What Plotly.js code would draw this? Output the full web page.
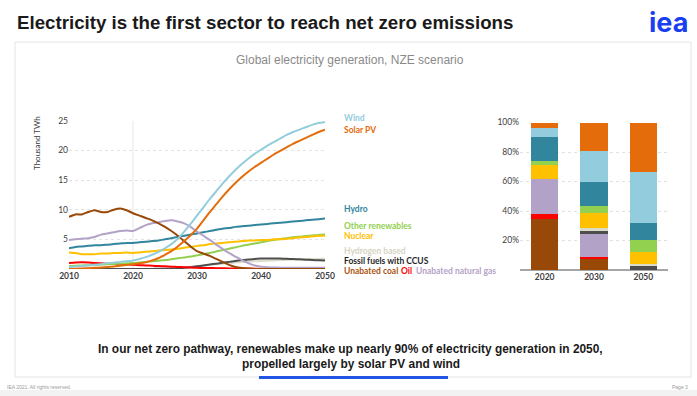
<!DOCTYPE html>
<html>
<head>
<meta charset="utf-8">
<script src="https://cdn.plot.ly/plotly-3.0.1.min.js"></script>
<style>html,body{margin:0;padding:0;background:#fff;}#chart{width:697px;height:396px;}</style>
</head>
<body>
<div id="chart"></div>
<script>
// ---------- DATA ----------
const years = [];
for (let y = 2010; y <= 2050; y++) years.push(y);

const wind = [0.35,0.42,0.5,0.6,0.7,0.8,0.95,1.05,1.2,1.3,1.45,1.7,2.0,2.4,2.9,3.5,4.2,5.1,6.3,7.6,9.0,10.4,11.8,13.1,14.4,15.6,16.7,17.7,18.6,19.4,20.1,20.8,21.4,22.0,22.6,23.1,23.5,23.9,24.3,24.6,24.8];
const solarPV = [0.03,0.06,0.1,0.14,0.19,0.25,0.33,0.44,0.56,0.68,0.8,0.95,1.15,1.45,1.85,2.4,3.0,3.8,4.7,5.7,6.8,8.2,9.6,10.9,12.2,13.4,14.5,15.5,16.4,17.2,17.9,18.6,19.3,19.9,20.5,21.1,21.6,22.1,22.6,23.1,23.5];
const hydro = [3.5,3.7,3.8,3.9,4.0,4.0,4.1,4.2,4.3,4.4,4.4,4.5,4.6,4.7,4.8,5.0,5.2,5.4,5.6,5.8,6.0,6.2,6.4,6.6,6.8,6.9,7.1,7.2,7.3,7.4,7.5,7.6,7.7,7.8,7.9,8.0,8.1,8.2,8.3,8.4,8.5];
const otherRenewables = [0.5,0.55,0.6,0.65,0.7,0.75,0.8,0.85,0.9,0.95,1.0,1.1,1.2,1.3,1.4,1.5,1.65,1.8,1.95,2.1,2.3,2.5,2.7,2.95,3.2,3.4,3.65,3.9,4.1,4.3,4.5,4.7,4.9,5.05,5.2,5.35,5.45,5.55,5.65,5.75,5.8];
const nuclear = [2.8,2.7,2.5,2.5,2.5,2.6,2.6,2.7,2.7,2.8,2.7,2.8,2.9,3.0,3.1,3.2,3.3,3.4,3.6,3.7,3.9,4.0,4.2,4.3,4.4,4.5,4.6,4.7,4.8,4.8,4.9,4.9,5.0,5.0,5.1,5.2,5.3,5.4,5.5,5.6,5.6];
const hydrogen = [0,0,0,0,0,0,0,0,0,0,0,0,0,0,0,0.05,0.1,0.2,0.3,0.4,0.5,0.6,0.7,0.8,0.9,1.0,1.1,1.2,1.25,1.3,1.35,1.4,1.45,1.5,1.55,1.6,1.62,1.65,1.68,1.7,1.72];
const ccus = [0.02,0.02,0.02,0.02,0.02,0.02,0.02,0.02,0.02,0.02,0.02,0.02,0.02,0.02,0.03,0.04,0.05,0.1,0.2,0.3,0.45,0.6,0.75,0.9,1.05,1.2,1.35,1.5,1.6,1.7,1.75,1.78,1.78,1.75,1.72,1.68,1.63,1.58,1.52,1.47,1.42];
const coal = [8.8,9.2,9.2,9.6,9.9,9.6,9.6,10.0,10.2,9.9,9.4,9.0,8.6,8.2,7.7,7.1,6.4,5.6,4.7,3.8,3.0,2.6,2.2,1.7,1.2,0.7,0.35,0.15,0.05,0.02,0.02,0.02,0.02,0.02,0.02,0.02,0.02,0.02,0.02,0.02,0.02];
const oil = [1.0,1.1,1.15,1.1,1.0,0.95,0.9,0.85,0.8,0.8,0.7,0.65,0.6,0.55,0.5,0.45,0.4,0.35,0.3,0.25,0.2,0.18,0.16,0.14,0.12,0.1,0.09,0.08,0.07,0.06,0.05,0.05,0.05,0.05,0.05,0.05,0.05,0.05,0.05,0.05,0.05];
const naturalGas = [4.9,5.0,5.1,5.2,5.4,5.8,6.0,6.2,6.4,6.5,6.4,6.9,7.4,7.7,7.9,8.1,8.2,8.0,7.7,7.1,6.3,5.6,4.9,4.1,3.4,2.7,2.1,1.5,1.0,0.6,0.4,0.3,0.25,0.22,0.2,0.2,0.2,0.2,0.2,0.2,0.2];

// Share of generation (%), by year
const barYears = ["2020","2030","2050"];
const shareCoal     = [34.8, 7.4, 0];
const shareOil      = [3.3, 1.1, 0];
const shareGas      = [23.4, 16.1, 0.2];
const shareCCUS     = [0, 1.8, 2.2];
const shareHydrogen = [0, 2.2, 1.8];
const shareNuclear  = [9.4, 10.0, 7.8];
const shareOtherRen = [3.3, 4.9, 8.3];
const shareHydro    = [16.0, 16.3, 11.8];
const shareWind     = [6.3, 21.2, 34.2];
const shareSolar    = [3.3, 19.0, 33.7];

const lineTicks = [5,10,15,20,25];
const yearTicks = [2010,2020,2030,2040,2050];
const pctTicks = [20,40,60,80,100];
const pctLabels = ["20%","40%","60%","80%","100%"];

// ---------- STYLE ----------
const C = {
  wind:'#93cddd', solar:'#e46c0a', hydro:'#31859c', other:'#92d050', nuclear:'#ffc000',
  hydrogen:'#dcdac8', ccus:'#4d4d4d', coal:'#984807', oil:'#ff0000', gas:'#b3a2c7'
};
const W = 697, H = 396;
const px = x => x / W;
const py = y => 1 - y / H;
const FONT = 'Lato, "DejaVu Sans", sans-serif';
const ARIAL = '"Liberation Sans", Arial, sans-serif';

function line(y, color, name) {
  return {type:'scatter', mode:'lines', x:years, y:y, name:name,
          line:{color:color, width:2, shape:'spline', smoothing:0.6},
          xaxis:'x', yaxis:'y', hoverinfo:'skip'};
}
const traces = [
  line(hydrogen, C.hydrogen, 'Hydrogen based'),
  line(ccus, C.ccus, 'Fossil fuels with CCUS'),
  line(oil, C.oil, 'Oil'),
  line(otherRenewables, C.other, 'Other renewables'),
  line(nuclear, C.nuclear, 'Nuclear'),
  line(hydro, C.hydro, 'Hydro'),
  line(naturalGas, C.gas, 'Unabated natural gas'),
  line(coal, C.coal, 'Unabated coal'),
  line(solarPV, C.solar, 'Solar PV'),
  line(wind, C.wind, 'Wind')
];
function bar(v, color, name) {
  return {type:'bar', x:barYears, y:v, name:name, marker:{color:color, line:{width:0}},
          xaxis:'x2', yaxis:'y2', hoverinfo:'skip'};
}
traces.push(
  bar(shareCoal, C.coal, 'Unabated coal'),
  bar(shareOil, C.oil, 'Oil'),
  bar(shareGas, C.gas, 'Unabated natural gas'),
  bar(shareCCUS, C.ccus, 'Fossil fuels with CCUS'),
  bar(shareHydrogen, C.hydrogen, 'Hydrogen based'),
  bar(shareNuclear, C.nuclear, 'Nuclear'),
  bar(shareOtherRen, C.other, 'Other renewables'),
  bar(shareHydro, C.hydro, 'Hydro'),
  bar(shareWind, C.wind, 'Wind'),
  bar(shareSolar, C.solar, 'Solar PV')
);

function ann(text, x, y, opts) {
  return Object.assign({text:text, x:px(x), y:py(y), xref:'paper', yref:'paper',
    showarrow:false, xanchor:'left', yanchor:'middle'}, opts || {});
}
const lf = (color) => ({family:FONT, size:8.5, color:color, weight:700});

const annotations = [
  ann('<b>Electricity is the first sector to reach net zero emissions</b>', 15, 22,
      {font:{family:ARIAL, size:18.7, color:'#1a1a1a'}}),
  ann('<b>iea</b>', 690, 23, {xanchor:'right', font:{family:'Inter, ' + ARIAL, size:27, color:'#1a3ff0'}}),
  ann('Global electricity generation, NZE scenario', 350, 60,
      {xanchor:'center', font:{family:ARIAL, size:12, color:'#8a8a8a'}}),
  ann('Thousand TWh', 37, 143, {xanchor:'center', textangle:-90, font:{family:FONT, size:8, color:'#404040'}}),
  ann('Wind', 342, 118, {font:lf(C.wind)}),
  ann('Solar PV', 342, 130, {font:lf(C.solar)}),
  ann('Hydro', 342, 209, {font:lf(C.hydro)}),
  ann('Other renewables', 342, 226, {font:lf(C.other)}),
  ann('Nuclear', 342, 236, {font:lf(C.nuclear)}),
  ann('Hydrogen based', 342, 251, {font:lf('#d6d4c2')}),
  ann('Fossil fuels with CCUS', 342, 261, {font:lf('#262626')}),
  ann('Unabated coal', 342, 271, {font:lf('#a9550f')}),
  ann('Oil', 399, 271, {font:lf(C.oil)}),
  ann('Unabated natural gas', 414, 271, {font:lf(C.gas)}),
  ann('<b>In our net zero pathway, renewables make up nearly 90% of electricity generation in 2050,</b>', 351, 349,
      {xanchor:'center', font:{family:ARIAL, size:11.9, color:'#1a1a1a'}}),
  ann('<b>propelled largely by solar PV and wind</b>', 351, 364,
      {xanchor:'center', font:{family:ARIAL, size:11.9, color:'#1a1a1a'}}),
  ann('IEA 2021. All rights reserved.', 5, 387, {font:{family:ARIAL, size:5, color:'#9a9a9a'}}),
  ann('Page 3', 690, 387, {xanchor:'right', font:{family:ARIAL, size:5, color:'#9a9a9a'}})
];

const shapes = [
  {type:'rect', xref:'paper', yref:'paper', x0:px(15), x1:px(691), y0:py(42), y1:py(377),
   line:{color:'#e4e4e4', width:1}, fillcolor:'rgba(0,0,0,0)', layer:'below'},
  {type:'rect', xref:'paper', yref:'paper', x0:0, x1:1, y0:0, y1:py(390),
   line:{width:0}, fillcolor:'#f2f2f2', layer:'below'},
  {type:'rect', xref:'paper', yref:'paper', x0:px(259), x1:px(448), y0:py(379), y1:py(376),
   line:{width:0}, fillcolor:'#2255e6'},
  {type:'line', xref:'x', yref:'y', x0:2020, x1:2020, y0:0, y1:25,
   line:{color:'#e6e6e6', width:1}, layer:'below'}
];

const layout = {
  width:W, height:H, margin:{l:0, r:0, t:0, b:0},
  paper_bgcolor:'#ffffff', plot_bgcolor:'rgba(0,0,0,0)',
  showlegend:false, hovermode:false, barmode:'stack', bargap:0.45,
  xaxis:{domain:[px(69), px(325)], range:[2010, 2050], tickmode:'array', tickvals:yearTicks, showgrid:false,
         zeroline:false, showline:false, ticks:'', fixedrange:true,
         tickfont:{family:FONT, size:8.5, color:'#404040', weight:700}},
  yaxis:{domain:[py(269), py(120.7)], range:[0, 25], tickmode:'array', tickvals:lineTicks, showgrid:true,
         gridcolor:'#e3e3e3', griddash:'dot', gridwidth:1, zeroline:false, showline:false, ticks:'',
         fixedrange:true, tickfont:{family:FONT, size:8.5, color:'#404040'}},
  xaxis2:{domain:[px(520), px(668)], type:'category', anchor:'y2', showgrid:false, zeroline:false,
          showline:false, ticks:'', fixedrange:true,
          tickfont:{family:FONT, size:8.5, color:'#404040', weight:700}},
  yaxis2:{domain:[py(270), py(122.5)], range:[0, 100], anchor:'x2', tickmode:'array',
          tickvals:pctTicks, ticktext:pctLabels,
          showgrid:true, gridcolor:'#e0e0e0', griddash:'dot', zeroline:true, zerolinecolor:'#a6a6a6',
          zerolinewidth:1.5, showline:false, ticks:'', fixedrange:true,
          tickfont:{family:FONT, size:8.5, color:'#404040'}},
  annotations:annotations, shapes:shapes
};

Plotly.newPlot('chart', traces, layout, {staticPlot:true, displayModeBar:false});
</script>
</body>
</html>
